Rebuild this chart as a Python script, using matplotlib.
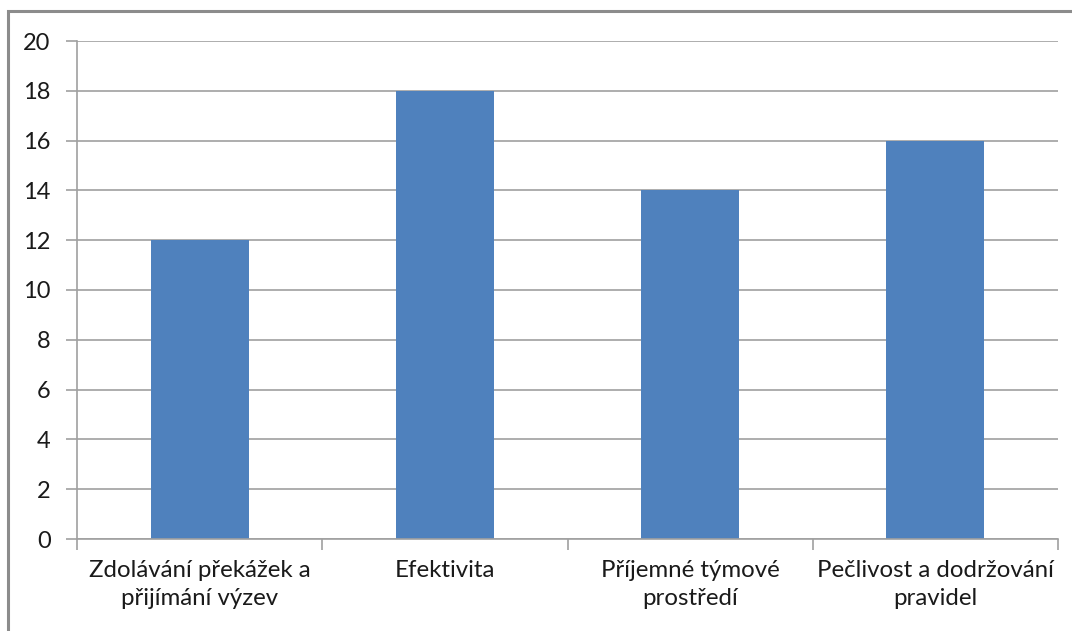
import matplotlib.pyplot as plt
from matplotlib.patches import Rectangle
import numpy as np

plt.rcParams['font.family'] = ['Lato', 'DejaVu Sans']

kategorie = ['Zdolávání překážek a\npřijímání výzev', 'Efektivita',
             'Příjemné týmové\nprostředí', 'Pečlivost a dodržování\npravidel']
hodnoty = [12, 18, 14, 16]
y_ticks = np.arange(0, 21, 2)

barva = '#4F81BD'
seda = '#A0A0A0'

fig = plt.figure(figsize=(10.72, 6.31), dpi=100)
ax = fig.add_axes([77 / 1072, 1 - 539 / 631, 981 / 1072, 498 / 631])

# rámeček kolem grafu
fig.patches.append(Rectangle((8 / 1072, -0.05), 1.05, 1 - 11 / 631 + 0.05,
                             transform=fig.transFigure, fill=False,
                             edgecolor='#8C8C8C', linewidth=2.2))

X = np.arange(len(kategorie))
ax.bar(X, hodnoty, width=0.4, color=barva, zorder=3)

ax.set_xlim(-0.5, len(kategorie) - 0.5)
ax.set_ylim(0, 20)
ax.set_yticks(y_ticks)
ax.set_yticklabels([str(v) for v in y_ticks], fontsize=17, color='#1A1A1A')
ax.yaxis.grid(True, color=seda, linewidth=1.2, zorder=0)

# dělicí značky mezi kategoriemi, popisky uprostřed
ax.set_xticks(np.arange(len(kategorie) + 1) - 0.5)
ax.set_xticklabels([])
ax.set_xticks(X, minor=True)
ax.set_xticklabels(kategorie, minor=True, fontsize=17.3, color='#1A1A1A', linespacing=1.42)
ax.tick_params(axis='x', which='major', length=8, color=seda, width=1.2, direction='out')
ax.tick_params(axis='x', which='minor', length=0, pad=15)
ax.tick_params(axis='y', length=8, color=seda, width=1.2, direction='out', pad=11)

for s in ['top', 'right']:
    ax.spines[s].set_visible(False)
for s in ['left', 'bottom']:
    ax.spines[s].set_color(seda)
    ax.spines[s].set_linewidth(1.2)
    ax.spines[s].set_zorder(4)

fig.savefig('out.png', dpi=100)
